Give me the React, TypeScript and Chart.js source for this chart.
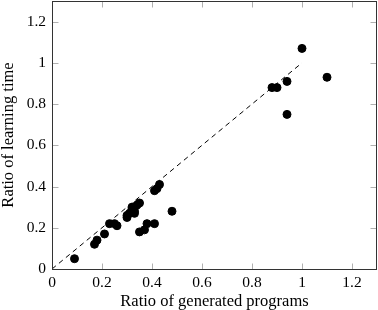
import React, { useEffect, useRef } from "react";
import { Chart, registerables } from "chart.js";

Chart.register(...registerables);

const xValues = [0.09, 0.17, 0.18, 0.21, 0.23, 0.25, 0.26, 0.30, 0.30, 0.31, 0.32, 0.32, 0.33, 0.33, 0.32, 0.33, 0.34, 0.35, 0.35, 0.37, 0.38, 0.41, 0.41, 0.42, 0.43, 0.48, 0.88, 0.90, 0.94, 0.94, 1.0, 1.10];
const yValues = [0.05, 0.12, 0.14, 0.17, 0.22, 0.22, 0.21, 0.25, 0.26, 0.27, 0.28, 0.29, 0.30, 0.27, 0.30, 0.28, 0.31, 0.32, 0.18, 0.19, 0.22, 0.22, 0.38, 0.39, 0.41, 0.28, 0.88, 0.88, 0.91, 0.75, 1.07, 0.93];
const refLineX = [0, 1];
const refLineY = [0, 1];
const tickValues = [0, 0.2, 0.4, 0.6, 0.8, 1, 1.2];
const xTitle = "Ratio of generated programs";
const yTitle = "Ratio of learning time";

const FONT = "'Liberation Serif', 'DejaVu Serif', serif";

const frame = {
  id: "frame",
  afterDraw(chart: any) {
    const { ctx, chartArea: a, scales } = chart;
    ctx.save();
    ctx.strokeStyle = "#b0b0b0";
    ctx.lineWidth = 1;
    const L = 6;
    const top = Math.round(a.top) + 0.5;
    const bottom = Math.round(a.bottom) + 0.5;
    const left = Math.round(a.left) + 0.5;
    const right = Math.round(a.right) - 0.5;
    for (const v of tickValues) {
      const px = Math.round(scales.x.getPixelForValue(v)) + 0.5;
      const py = Math.round(scales.y.getPixelForValue(v)) + 0.5;
      ctx.beginPath();
      ctx.moveTo(px, bottom); ctx.lineTo(px, bottom - L);
      ctx.moveTo(px, top); ctx.lineTo(px, top + L);
      ctx.moveTo(left, py); ctx.lineTo(left + L, py);
      ctx.moveTo(right, py); ctx.lineTo(right - L, py);
      ctx.stroke();
    }
    ctx.strokeStyle = "#333333";
    ctx.strokeRect(left, top, right - left, bottom - top);
    ctx.restore();
  },
};

export default function App() {
  const ref = useRef<HTMLCanvasElement | null>(null);
  useEffect(() => {
    if (!ref.current) return;
    const chart = new Chart(ref.current, {
      type: "scatter",
      data: {
        datasets: [
          {
            type: "line",
            data: refLineX.map((x, i) => ({ x, y: refLineY[i] })),
            borderColor: "#000",
            borderWidth: 1,
            borderDash: [5, 4],
            pointRadius: 0,
            order: 2,
          } as any,
          {
            data: xValues.map((x, i) => ({ x, y: yValues[i] })),
            backgroundColor: "#000",
            borderColor: "#000",
            pointRadius: 4,
            order: 1,
          },
        ],
      },
      plugins: [frame],
      options: {
        animation: false,
        responsive: false,
        layout: { autoPadding: false, padding: { top: 1, right: 1, left: 0, bottom: 0 } },
        plugins: { legend: { display: false }, tooltip: { enabled: false } },
        scales: {
          x: {
            type: "linear",
            min: 0,
            max: 1.3,
            grid: { display: false, drawTicks: false },
            border: { display: false },
            afterBuildTicks: (s: any) => { s.ticks = tickValues.map((v) => ({ value: v })); },
            afterFit: (s: any) => { s.height = 41; s.paddingLeft = 0; s.paddingRight = 0; },
            ticks: {
              color: "#000",
              padding: 5,
              maxRotation: 0,
              font: { family: FONT, size: 15.5 },
              callback: (v: any) => String(Math.round(Number(v) * 10) / 10),
            },
            title: { display: true, text: xTitle, color: "#000", padding: 0, font: { family: FONT, size: 16.5, lineHeight: 1 } },
          },
          y: {
            type: "linear",
            min: 0,
            max: 1.3,
            grid: { display: false, drawTicks: false },
            border: { display: false },
            afterBuildTicks: (s: any) => { s.ticks = tickValues.map((v) => ({ value: v })); },
            afterFit: (s: any) => { s.width = 52; s.paddingTop = 0; s.paddingBottom = 0; },
            ticks: {
              color: "#000",
              padding: 6,
              font: { family: FONT, size: 15.5 },
              callback: (v: any) => String(Math.round(Number(v) * 10) / 10),
            },
            title: { display: true, text: yTitle, color: "#000", padding: 0, font: { family: FONT, size: 16.5, lineHeight: 1 } },
          },
        },
      },
    });
    return () => chart.destroy();
  }, []);
  return (
    <div style={{ position: "absolute", left: 0, top: 0, width: 378, height: 310, background: "#fff" }}>
      <canvas ref={ref} width={378} height={310} />
    </div>
  );
}
